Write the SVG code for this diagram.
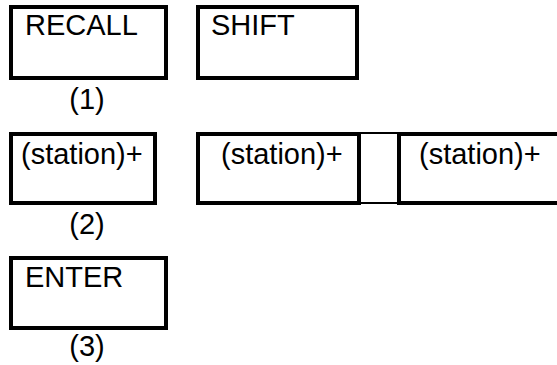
<svg xmlns="http://www.w3.org/2000/svg" width="557" height="365" viewBox="0 0 557 365">
<style>
.box{fill:#fff;stroke:#000;stroke-width:4}
.thin{fill:#fff;stroke:#000;stroke-width:2}
.t{font-family:"Liberation Sans",Arial,sans-serif;font-size:29px;fill:#000}
.l{font-family:"Liberation Sans",Arial,sans-serif;font-size:29px;fill:#000;text-anchor:middle}
</style>
<rect width="557" height="365" fill="#fff"/>
<g id="connectors">
<rect class="thin" x="359" y="133" width="40" height="70"/>
</g>
<g id="recall">
<rect class="box" x="11" y="7" width="155" height="71"/>
<text class="t" x="25" y="35">RECALL</text>
</g>
<g id="shift">
<rect class="box" x="198" y="7" width="159" height="71"/>
<text class="t" x="211" y="35">SHIFT</text>
</g>
<g id="label1"><text class="l" x="87" y="109">(1)</text></g>
<g id="station1">
<rect class="box" x="11" y="134" width="144" height="69"/>
<text class="t" x="21" y="164">(station)+</text>
</g>
<g id="station2">
<rect class="box" x="198" y="134" width="161" height="69"/>
<text class="t" x="221" y="164">(station)+</text>
</g>
<g id="station3">
<rect class="box" x="399" y="134" width="162" height="69"/>
<text class="t" x="419" y="164">(station)+</text>
</g>
<g id="label2"><text class="l" x="87" y="234">(2)</text></g>
<g id="enter">
<rect class="box" x="11" y="258" width="155" height="70"/>
<text class="t" x="25" y="287">ENTER</text>
</g>
<g id="label3"><text class="l" x="87" y="356">(3)</text></g>
</svg>
